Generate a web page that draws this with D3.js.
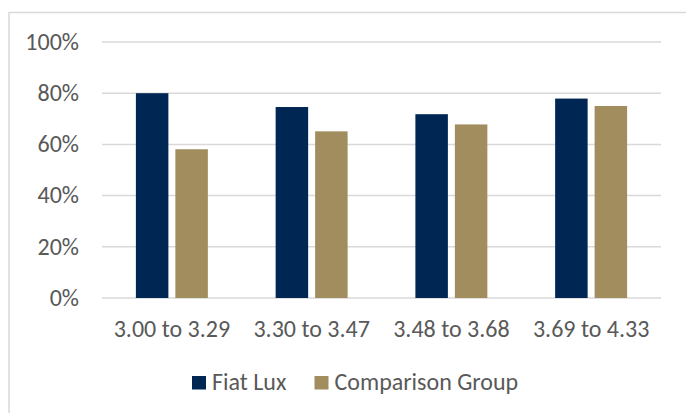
<!DOCTYPE html>
<html>
<head>
<meta charset="utf-8">
<script src="https://cdn.jsdelivr.net/npm/d3@7"></script>
<style>
  html, body { margin: 0; padding: 0; background: #fff; }
  svg { display: block; }
  text { font-family: Carlito, Calibri, "Open Sans", sans-serif; fill: #595959; }
</style>
</head>
<body>
<svg id="chart" width="686" height="413"></svg>
<script>
const categories = ["3.00 to 3.29", "3.30 to 3.47", "3.48 to 3.68", "3.69 to 4.33"];
const seriesNames = ["Fiat Lux", "Comparison Group"];
const fiatLux = [0.80, 0.746, 0.718, 0.779];
const comparisonGroup = [0.581, 0.651, 0.678, 0.750];
const yTicks = [0, 0.2, 0.4, 0.6, 0.8, 1.0];
const colors = ["#002654", "#A18D5E"];

const seriesValues = [fiatLux, comparisonGroup];
const data = categories.map((c, i) => ({
  category: c,
  values: seriesNames.map((s, j) => ({ series: s, value: seriesValues[j][i] }))
}));

const svg = d3.select("#chart");

// chart border (outer frame, left and top visible)
svg.append("rect")
  .attr("x", 9).attr("y", 12.5)
  .attr("width", 700).attr("height", 420)
  .attr("fill", "none")
  .attr("stroke", "#d9d9d9")
  .attr("stroke-width", 1.5);

const plotLeft = 102, plotRight = 661, plotTop = 42, plotBottom = 298;

const x0 = d3.scaleBand()
  .domain(categories)
  .range([plotLeft, plotRight])
  .paddingInner(0.485)
  .paddingOuter(0.2425);

const x1 = d3.scaleBand()
  .domain(seriesNames)
  .range([0, x0.bandwidth()])
  .paddingInner(0.177);

const y = d3.scaleLinear().domain([0, 1]).range([plotBottom, plotTop]);

const fontSize = 24;

// gridlines
svg.append("g")
  .selectAll("line")
  .data(yTicks)
  .join("line")
  .attr("x1", plotLeft).attr("x2", plotRight)
  .attr("y1", d => y(d)).attr("y2", d => y(d))
  .attr("stroke", "#d9d9d9")
  .attr("stroke-width", 1.5);

// y labels
svg.append("g")
  .selectAll("text")
  .data(yTicks)
  .join("text")
  .attr("x", 79)
  .attr("y", d => y(d) + 7.7)
  .attr("text-anchor", "end")
  .attr("font-size", fontSize)
  .text(d => d3.format(".0%")(d));

// bars
svg.append("g")
  .selectAll("g")
  .data(data)
  .join("g")
  .attr("transform", d => `translate(${x0(d.category)},0)`)
  .selectAll("rect")
  .data(d => d.values)
  .join("rect")
  .attr("x", d => x1(d.series))
  .attr("width", x1.bandwidth())
  .attr("y", d => y(d.value))
  .attr("height", d => y(0) - y(d.value))
  .attr("fill", (d, i) => colors[i]);

// x labels
svg.append("g")
  .selectAll("text")
  .data(categories)
  .join("text")
  .attr("x", d => x0(d) + x0.bandwidth() / 2)
  .attr("y", 336.5)
  .attr("text-anchor", "middle")
  .attr("font-size", fontSize)
  .text(d => d);

// legend
const legendItems = [
  { name: seriesNames[0], color: colors[0], x: 192 },
  { name: seriesNames[1], color: colors[1], x: 314.5 }
];
const lg = svg.append("g");
lg.selectAll("rect")
  .data(legendItems)
  .join("rect")
  .attr("x", d => d.x)
  .attr("y", 376)
  .attr("width", 14)
  .attr("height", 13.5)
  .attr("fill", d => d.color);
lg.selectAll("text")
  .data(legendItems)
  .join("text")
  .attr("x", d => d.x + 20)
  .attr("y", 389.5)
  .attr("font-size", fontSize)
  .text(d => d.name);
</script>
</body>
</html>
